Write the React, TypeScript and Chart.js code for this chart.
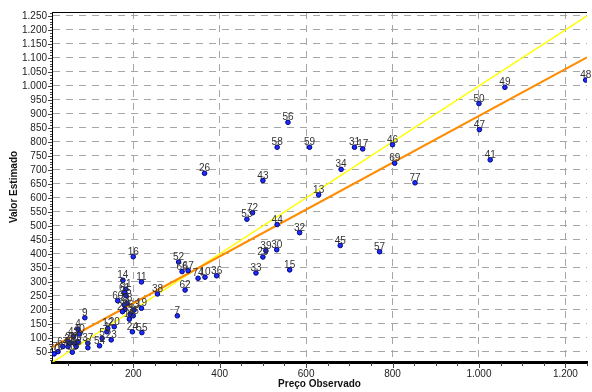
import React, { useEffect, useRef } from 'react';
import { Chart, registerables } from 'chart.js';

Chart.register(...registerables);

const pointLabels = [
  '26', '43', '56', '58', '59', '31', '17', '34', '13', '46', '69', '49', '50', '47', '41', '77', '48',
  '72', '53', '44', '32', '45', '57', '39', '29', '30', '15', '33', '36', '10', '74', '62', '52', '66',
  '67', '7', '38', '16', '11', '14', '19', '24', '55', '51', '61', '25', '60', '28', '73', '8', '21',
  '63', '3', '35', '18', '9', '4', '40', '42', '2', '27', '22', '71', '37', '75', '68', '6', '65', '76',
  '70', '54', '5', '1', '12', '20', '23', '64',
];

const observedPrice = [
  365, 500, 558, 533, 608, 712, 731, 681, 629, 800, 805, 1060, 1000, 1001, 1026, 852, 1247,
  476, 463, 533, 585, 679, 770, 507, 500, 532, 562, 484, 393, 366, 350, 320, 305, 313,
  327, 302, 256, 200, 219, 176, 219, 198, 220, 183, 180, 183, 164, 185, 179, 181, 175,
  202, 193, 200, 191, 88, 72, 75, 62, 49, 72, 53, 64, 95, 49, 68, 95, 59, 26,
  17, 122, 128, 139, 141, 156, 149, 37,
];

const estimatedValue = [
  688, 662, 870, 781, 781, 781, 775, 702, 611, 790, 724, 995, 937, 844, 736, 654, 1021,
  547, 524, 505, 476, 430, 408, 411, 389, 415, 343, 332, 322, 317, 313, 271, 371, 337,
  340, 179, 257, 390, 300, 306, 206, 122, 119, 274, 262, 251, 233, 224, 218, 202, 194,
  200, 185, 179, 167, 172, 131, 114, 105, 87, 87, 80, 81, 81, 69, 69, 65, 49, 51,
  43, 72, 99, 122, 134, 140, 93, 69,
];

const identityX = [12, 1250];
const identityY = [12, 1250];
const regressionX = [12, 1250];
const regressionY = [67, 1102];

const xTickValues = [200, 400, 600, 800, 1000, 1200];
const yTickValues = [
  50, 100, 150, 200, 250, 300, 350, 400, 450, 500, 550, 600, 650,
  700, 750, 800, 850, 900, 950, 1000, 1050, 1100, 1150, 1200, 1250,
];

const FONT = '"Liberation Sans", Arial, Helvetica, sans-serif';

const fmt = (v: number) => String(v).replace(/\B(?=(\d{3})+(?!\d))/g, '.');

const framePlugin = {
  id: 'frameAndLabels',
  afterDatasetsDraw(chart: any) {
    const { ctx } = chart;
    const meta = chart.getDatasetMeta(0);
    ctx.save();
    ctx.font = `10px ${FONT}`;
    ctx.fillStyle = '#333333';
    ctx.textAlign = 'center';
    ctx.textBaseline = 'alphabetic';
    meta.data.forEach((el: any, i: number) => {
      ctx.fillText(pointLabels[i], el.x, el.y - 2);
    });
    ctx.restore();
  },
  afterDraw(chart: any) {
    const { ctx, chartArea: a, scales } = chart;
    const xs = scales.x;
    const ys = scales.y;
    ctx.save();
    ctx.strokeStyle = '#000';
    ctx.lineWidth = 1;
    ctx.beginPath();
    ctx.moveTo(a.left, a.top + 0.5);
    ctx.lineTo(a.right, a.top + 0.5);
    ctx.stroke();
    ctx.strokeStyle = '#444';
    ctx.beginPath();
    for (let v = 20; v <= 1260; v += 10) {
      const py = Math.round(ys.getPixelForValue(v)) + 0.5;
      const len = v % 50 === 0 ? 4 : 2;
      ctx.moveTo(a.left - len, py);
      ctx.lineTo(a.left, py);
    }
    ctx.stroke();
    ctx.beginPath();
    for (let v = 50; v <= 1250; v += 50) {
      const px = Math.round(xs.getPixelForValue(v)) + 0.5;
      const len = v % 200 === 0 ? 5 : 3;
      ctx.moveTo(px, a.bottom + 1);
      ctx.lineTo(px, a.bottom + 1 + len);
    }
    ctx.stroke();
    ctx.restore();
  },
};

export default function App() {
  const canvasRef = useRef<HTMLCanvasElement | null>(null);

  useEffect(() => {
    document.body.style.margin = '0';
    const canvas = canvasRef.current;
    if (!canvas) return;
    Chart.defaults.font.family = FONT;

    const scatterData = observedPrice.map((x, i) => ({ x, y: estimatedValue[i] }));
    const identityData = identityX.map((x, i) => ({ x, y: identityY[i] }));
    const regressionData = regressionX.map((x, i) => ({ x, y: regressionY[i] }));

    const chart = new Chart(canvas, {
      type: 'scatter',
      data: {
        datasets: [
          {
            label: 'Pontos',
            data: scatterData,
            pointRadius: 2.3,
            pointBackgroundColor: '#1a2cff',
            pointBorderColor: '#00007a',
            pointBorderWidth: 1,
            showLine: false,
          },
          {
            label: 'Regressão',
            data: regressionData,
            showLine: true,
            borderColor: '#ff8c00',
            borderWidth: 2.2,
            pointRadius: 0,
            fill: false,
          },
          {
            label: 'Identidade',
            data: identityData,
            showLine: true,
            borderColor: '#ffff00',
            borderWidth: 1.4,
            pointRadius: 0,
            fill: false,
          },
        ],
      },
      options: {
        animation: false,
        responsive: false,
        devicePixelRatio: 1,
        layout: { padding: { top: 12, right: 0, bottom: 0, left: 0 } },
        plugins: {
          legend: { display: false },
          tooltip: { enabled: false },
        },
        scales: {
          x: {
            type: 'linear',
            min: 12,
            max: 1250,
            afterFit: (s: any) => {
              s.height = 30;
            },
            afterBuildTicks: (s: any) => {
              s.ticks = xTickValues.map((v) => ({ value: v }));
            },
            ticks: {
              callback: (v: any) => fmt(Number(v)),
              font: { size: 10, family: FONT },
              color: '#222',
              padding: 6,
              maxRotation: 0,
              autoSkip: false,
            },
            grid: { color: '#a6a6a6', lineWidth: 1, drawTicks: false },
            border: { color: '#000', width: 3, dash: [7, 6] },
            title: {
              display: true,
              text: 'Preço Observado',
              font: { size: 10, weight: 'bold', family: FONT },
              color: '#111',
              padding: { top: 0, bottom: 2 },
            },
          },
          y: {
            type: 'linear',
            min: 14,
            max: 1264,
            afterFit: (s: any) => {
              s.width = 52;
            },
            afterBuildTicks: (s: any) => {
              s.ticks = yTickValues.map((v) => ({ value: v }));
            },
            ticks: {
              callback: (v: any) => fmt(Number(v)),
              font: { size: 10, family: FONT },
              color: '#222',
              padding: 5,
              autoSkip: false,
            },
            grid: { color: '#a6a6a6', lineWidth: 1, drawTicks: false },
            border: { color: '#000', width: 1, dash: [7, 6] },
            title: {
              display: true,
              text: 'Valor Estimado',
              font: { size: 10, weight: 'bold', family: FONT },
              color: '#111',
              padding: { top: 8, bottom: 0 },
            },
          },
        },
      },
      plugins: [framePlugin],
    } as any);

    return () => {
      chart.destroy();
    };
  }, []);

  return (
    <div style={{ width: 592, height: 392, position: 'relative', background: '#fff' }}>
      <canvas ref={canvasRef} width={592} height={392} style={{ display: 'block' }} />
    </div>
  );
}
